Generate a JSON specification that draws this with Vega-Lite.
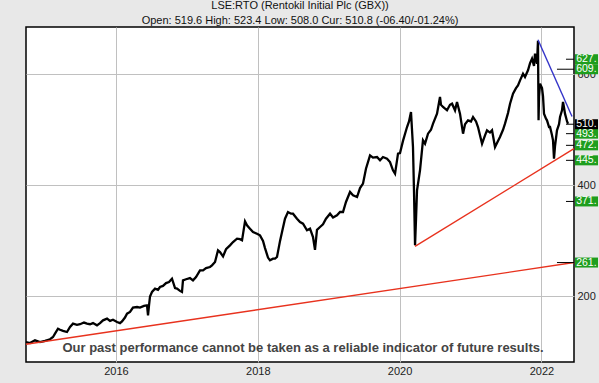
{
  "$schema": "https://vega.github.io/schema/vega-lite/v6.json",
  "width": 548,
  "height": 335,
  "autosize": {"type": "none"},
  "padding": {"left": 26, "top": 27, "right": 25, "bottom": 21},
  "background": "#e8e8e8",
  "title": {
    "text": "LSE:RTO (Rentokil Initial Plc (GBX))",
    "subtitle": "Open: 519.6 High: 523.4 Low: 508.0 Cur: 510.8 (-06.40/-01.24%)",
    "anchor": "middle",
    "font": "Liberation Sans",
    "fontSize": 11,
    "fontWeight": "normal",
    "color": "#111111",
    "subtitleFont": "Liberation Sans",
    "subtitleFontSize": 11,
    "subtitleColor": "#111111",
    "subtitlePadding": 4,
    "offset": 1
  },
  "config": {
    "view": {"stroke": "#000000", "strokeWidth": 1.5, "fill": "#ffffff"},
    "axis": {
      "labelFont": "Liberation Sans",
      "labelFontSize": 11,
      "labelColor": "#222222",
      "gridColor": "#c0c0c0",
      "gridWidth": 1,
      "domain": false,
      "ticks": false,
      "title": null
    }
  },
  "datasets": {
    "price": [
      {"yr": 2014.731, "v": 118}, {"yr": 2014.787, "v": 116}, {"yr": 2014.858, "v": 121}, {"yr": 2014.928, "v": 118},
      {"yr": 2014.999, "v": 120}, {"yr": 2015.070, "v": 123}, {"yr": 2015.112, "v": 127}, {"yr": 2015.140, "v": 133},
      {"yr": 2015.182, "v": 142}, {"yr": 2015.211, "v": 140}, {"yr": 2015.253, "v": 138}, {"yr": 2015.309, "v": 136},
      {"yr": 2015.352, "v": 145}, {"yr": 2015.394, "v": 151}, {"yr": 2015.450, "v": 149}, {"yr": 2015.493, "v": 150},
      {"yr": 2015.549, "v": 153}, {"yr": 2015.591, "v": 151}, {"yr": 2015.634, "v": 150}, {"yr": 2015.676, "v": 152},
      {"yr": 2015.732, "v": 148}, {"yr": 2015.775, "v": 152}, {"yr": 2015.817, "v": 157}, {"yr": 2015.874, "v": 160},
      {"yr": 2015.916, "v": 156}, {"yr": 2015.958, "v": 158}, {"yr": 2016.015, "v": 154}, {"yr": 2016.057, "v": 152},
      {"yr": 2016.085, "v": 155}, {"yr": 2016.127, "v": 162}, {"yr": 2016.156, "v": 169}, {"yr": 2016.198, "v": 172},
      {"yr": 2016.240, "v": 180}, {"yr": 2016.297, "v": 181}, {"yr": 2016.339, "v": 180}, {"yr": 2016.395, "v": 183},
      {"yr": 2016.438, "v": 184}, {"yr": 2016.452, "v": 166}, {"yr": 2016.466, "v": 184}, {"yr": 2016.480, "v": 200},
      {"yr": 2016.508, "v": 208}, {"yr": 2016.551, "v": 214}, {"yr": 2016.593, "v": 212}, {"yr": 2016.621, "v": 217},
      {"yr": 2016.663, "v": 219}, {"yr": 2016.706, "v": 224}, {"yr": 2016.748, "v": 226}, {"yr": 2016.790, "v": 232},
      {"yr": 2016.833, "v": 215}, {"yr": 2016.861, "v": 214}, {"yr": 2016.903, "v": 210}, {"yr": 2016.931, "v": 208},
      {"yr": 2016.945, "v": 229}, {"yr": 2016.988, "v": 231}, {"yr": 2017.044, "v": 233}, {"yr": 2017.086, "v": 229},
      {"yr": 2017.129, "v": 235}, {"yr": 2017.185, "v": 247}, {"yr": 2017.228, "v": 247}, {"yr": 2017.270, "v": 251},
      {"yr": 2017.326, "v": 253}, {"yr": 2017.354, "v": 256}, {"yr": 2017.397, "v": 262}, {"yr": 2017.439, "v": 283},
      {"yr": 2017.467, "v": 280}, {"yr": 2017.510, "v": 272}, {"yr": 2017.552, "v": 285}, {"yr": 2017.608, "v": 292},
      {"yr": 2017.651, "v": 298}, {"yr": 2017.707, "v": 304}, {"yr": 2017.749, "v": 303}, {"yr": 2017.778, "v": 301},
      {"yr": 2017.820, "v": 335}, {"yr": 2017.848, "v": 328}, {"yr": 2017.890, "v": 322}, {"yr": 2017.933, "v": 316},
      {"yr": 2017.989, "v": 313}, {"yr": 2018.031, "v": 310}, {"yr": 2018.074, "v": 300}, {"yr": 2018.102, "v": 287},
      {"yr": 2018.144, "v": 270}, {"yr": 2018.172, "v": 265}, {"yr": 2018.215, "v": 268}, {"yr": 2018.243, "v": 268},
      {"yr": 2018.271, "v": 271}, {"yr": 2018.314, "v": 300}, {"yr": 2018.342, "v": 316}, {"yr": 2018.384, "v": 340},
      {"yr": 2018.426, "v": 352}, {"yr": 2018.469, "v": 349}, {"yr": 2018.497, "v": 349}, {"yr": 2018.553, "v": 340},
      {"yr": 2018.596, "v": 334}, {"yr": 2018.638, "v": 331}, {"yr": 2018.694, "v": 319}, {"yr": 2018.737, "v": 322},
      {"yr": 2018.779, "v": 307}, {"yr": 2018.807, "v": 284}, {"yr": 2018.835, "v": 320}, {"yr": 2018.878, "v": 325},
      {"yr": 2018.920, "v": 330}, {"yr": 2018.962, "v": 340}, {"yr": 2019.019, "v": 349}, {"yr": 2019.061, "v": 342},
      {"yr": 2019.117, "v": 346}, {"yr": 2019.160, "v": 352}, {"yr": 2019.202, "v": 352}, {"yr": 2019.244, "v": 370},
      {"yr": 2019.301, "v": 388}, {"yr": 2019.343, "v": 382}, {"yr": 2019.400, "v": 379}, {"yr": 2019.442, "v": 395},
      {"yr": 2019.484, "v": 403}, {"yr": 2019.526, "v": 430}, {"yr": 2019.583, "v": 454}, {"yr": 2019.625, "v": 450},
      {"yr": 2019.682, "v": 451}, {"yr": 2019.724, "v": 445}, {"yr": 2019.766, "v": 451}, {"yr": 2019.823, "v": 448},
      {"yr": 2019.865, "v": 442}, {"yr": 2019.907, "v": 427}, {"yr": 2019.936, "v": 421}, {"yr": 2019.978, "v": 457},
      {"yr": 2020.006, "v": 458}, {"yr": 2020.048, "v": 480}, {"yr": 2020.105, "v": 505}, {"yr": 2020.133, "v": 515},
      {"yr": 2020.161, "v": 532}, {"yr": 2020.189, "v": 469}, {"yr": 2020.204, "v": 386}, {"yr": 2020.218, "v": 292},
      {"yr": 2020.232, "v": 340}, {"yr": 2020.246, "v": 391}, {"yr": 2020.288, "v": 427}, {"yr": 2020.330, "v": 481},
      {"yr": 2020.359, "v": 475}, {"yr": 2020.401, "v": 493}, {"yr": 2020.443, "v": 500}, {"yr": 2020.472, "v": 511},
      {"yr": 2020.528, "v": 529}, {"yr": 2020.570, "v": 559}, {"yr": 2020.584, "v": 545}, {"yr": 2020.613, "v": 541},
      {"yr": 2020.669, "v": 535}, {"yr": 2020.711, "v": 545}, {"yr": 2020.740, "v": 547}, {"yr": 2020.782, "v": 535},
      {"yr": 2020.810, "v": 550}, {"yr": 2020.852, "v": 529}, {"yr": 2020.895, "v": 493}, {"yr": 2020.923, "v": 510},
      {"yr": 2020.965, "v": 517}, {"yr": 2021.007, "v": 515}, {"yr": 2021.036, "v": 523}, {"yr": 2021.078, "v": 515},
      {"yr": 2021.106, "v": 505}, {"yr": 2021.134, "v": 490}, {"yr": 2021.163, "v": 475}, {"yr": 2021.205, "v": 490},
      {"yr": 2021.233, "v": 499}, {"yr": 2021.275, "v": 495}, {"yr": 2021.304, "v": 499}, {"yr": 2021.346, "v": 469},
      {"yr": 2021.388, "v": 480}, {"yr": 2021.416, "v": 487}, {"yr": 2021.459, "v": 500}, {"yr": 2021.487, "v": 511},
      {"yr": 2021.529, "v": 530}, {"yr": 2021.558, "v": 547}, {"yr": 2021.600, "v": 565}, {"yr": 2021.642, "v": 575},
      {"yr": 2021.670, "v": 580}, {"yr": 2021.699, "v": 589}, {"yr": 2021.741, "v": 601}, {"yr": 2021.769, "v": 595},
      {"yr": 2021.811, "v": 607}, {"yr": 2021.840, "v": 620}, {"yr": 2021.868, "v": 628}, {"yr": 2021.896, "v": 615},
      {"yr": 2021.910, "v": 637}, {"yr": 2021.938, "v": 619}, {"yr": 2021.952, "v": 660}, {"yr": 2021.960, "v": 517},
      {"yr": 2021.967, "v": 560}, {"yr": 2021.981, "v": 583}, {"yr": 2022.009, "v": 575}, {"yr": 2022.023, "v": 560},
      {"yr": 2022.037, "v": 529}, {"yr": 2022.065, "v": 520}, {"yr": 2022.079, "v": 517}, {"yr": 2022.108, "v": 505},
      {"yr": 2022.122, "v": 505}, {"yr": 2022.150, "v": 490}, {"yr": 2022.164, "v": 481}, {"yr": 2022.178, "v": 448},
      {"yr": 2022.192, "v": 470}, {"yr": 2022.220, "v": 499}, {"yr": 2022.249, "v": 510}, {"yr": 2022.263, "v": 523},
      {"yr": 2022.291, "v": 535}, {"yr": 2022.305, "v": 550}, {"yr": 2022.319, "v": 540}, {"yr": 2022.333, "v": 529},
      {"yr": 2022.362, "v": 515}, {"yr": 2022.376, "v": 511}
    ],
    "trend": [
      {"id": "support", "yr": 2014.731, "v": 114}, {"id": "support", "yr": 2022.46, "v": 261},
      {"id": "support2", "yr": 2020.218, "v": 290}, {"id": "support2", "yr": 2022.46, "v": 466},
      {"id": "resistance", "yr": 2021.952, "v": 662}, {"id": "resistance", "yr": 2022.432, "v": 524}
    ],
    "levels": [
      {"level": 627, "label": "627.", "kind": "target"},
      {"level": 609, "label": "609.", "kind": "target"},
      {"level": 510, "label": "510.", "kind": "current"},
      {"level": 493, "label": "493.", "kind": "target"},
      {"level": 472, "label": "472.", "kind": "target"},
      {"level": 445, "label": "445.", "kind": "target"},
      {"level": 371, "label": "371.", "kind": "target"},
      {"level": 261, "label": "261.", "kind": "target"}
    ],
    "note": [
      {"text": "Our past performance cannot be taken as a reliable indicator of future results."}
    ]
  },
  "layer": [
    {
      "data": {"name": "price"},
      "mark": {"type": "line", "color": "#000000", "strokeWidth": 2.3, "strokeJoin": "miter"},
      "encoding": {
        "x": {
          "field": "yr", "type": "quantitative",
          "scale": {"domain": [2014.731, 2022.46], "nice": false, "zero": false},
          "axis": {"values": [2016, 2018, 2020, 2022], "format": "d", "grid": true, "labelPadding": 3, "title": null}
        },
        "y": {
          "field": "v", "type": "quantitative",
          "scale": {"domain": [82, 685], "nice": false, "zero": false},
          "axis": {"orient": "right", "values": [200, 400, 600], "grid": true, "labelPadding": 3, "title": null}
        }
      }
    },
    {
      "data": {"name": "trend"},
      "transform": [{"filter": "datum.id != 'resistance'"}],
      "mark": {"type": "line", "strokeWidth": 1.4, "color": "#e8321e"},
      "encoding": {
        "x": {"field": "yr", "type": "quantitative"},
        "y": {"field": "v", "type": "quantitative"},
        "detail": {"field": "id"}
      }
    },
    {
      "data": {"name": "trend"},
      "transform": [{"filter": "datum.id == 'resistance'"}],
      "mark": {"type": "line", "strokeWidth": 1.4, "color": "#3434c8"},
      "encoding": {
        "x": {"field": "yr", "type": "quantitative"},
        "y": {"field": "v", "type": "quantitative"}
      }
    },
    {
      "data": {"name": "levels"},
      "transform": [{"filter": "datum.level != 609 && datum.level != 261"}],
      "mark": {"type": "rule", "color": "#000000", "strokeWidth": 1, "clip": false},
      "encoding": {
        "x": {"datum": 2022.347, "type": "quantitative"},
        "x2": {"datum": 2022.46},
        "y": {"field": "level", "type": "quantitative"}
      }
    },
    {
      "data": {"name": "levels"},
      "transform": [{"filter": "datum.level == 609 || datum.level == 261"}],
      "mark": {"type": "rule", "color": "#000000", "strokeWidth": 1, "clip": false},
      "encoding": {
        "x": {"datum": 2022.22, "type": "quantitative"},
        "x2": {"datum": 2022.46},
        "y": {"field": "level", "type": "quantitative"}
      }
    },
    {
      "data": {"name": "levels"},
      "transform": [{"filter": "datum.kind == 'target'"}],
      "mark": {"type": "tick", "orient": "horizontal", "size": 23, "thickness": 10, "opacity": 1, "color": "#1e9e1e", "clip": false},
      "encoding": {
        "x": {"datum": 2022.636, "type": "quantitative"},
        "y": {"field": "level", "type": "quantitative"}
      }
    },
    {
      "data": {"name": "levels"},
      "transform": [{"filter": "datum.kind == 'current'"}],
      "mark": {"type": "tick", "orient": "horizontal", "size": 23, "thickness": 10, "opacity": 1, "color": "#000000", "clip": false},
      "encoding": {
        "x": {"datum": 2022.636, "type": "quantitative"},
        "y": {"field": "level", "type": "quantitative"}
      }
    },
    {
      "data": {"name": "levels"},
      "mark": {"type": "text", "align": "left", "baseline": "middle", "color": "#ffffff", "font": "Liberation Sans", "fontSize": 10.5, "clip": false},
      "encoding": {
        "x": {"datum": 2022.49, "type": "quantitative"},
        "y": {"field": "level", "type": "quantitative"},
        "text": {"field": "label"}
      }
    },
    {
      "data": {"name": "note"},
      "mark": {"type": "text", "align": "center", "baseline": "middle", "color": "#444444", "font": "Liberation Sans", "fontSize": 13, "fontWeight": "bold"},
      "encoding": {
        "x": {"datum": 2018.638, "type": "quantitative"},
        "y": {"datum": 107, "type": "quantitative"},
        "text": {"field": "text"}
      }
    }
  ]
}
